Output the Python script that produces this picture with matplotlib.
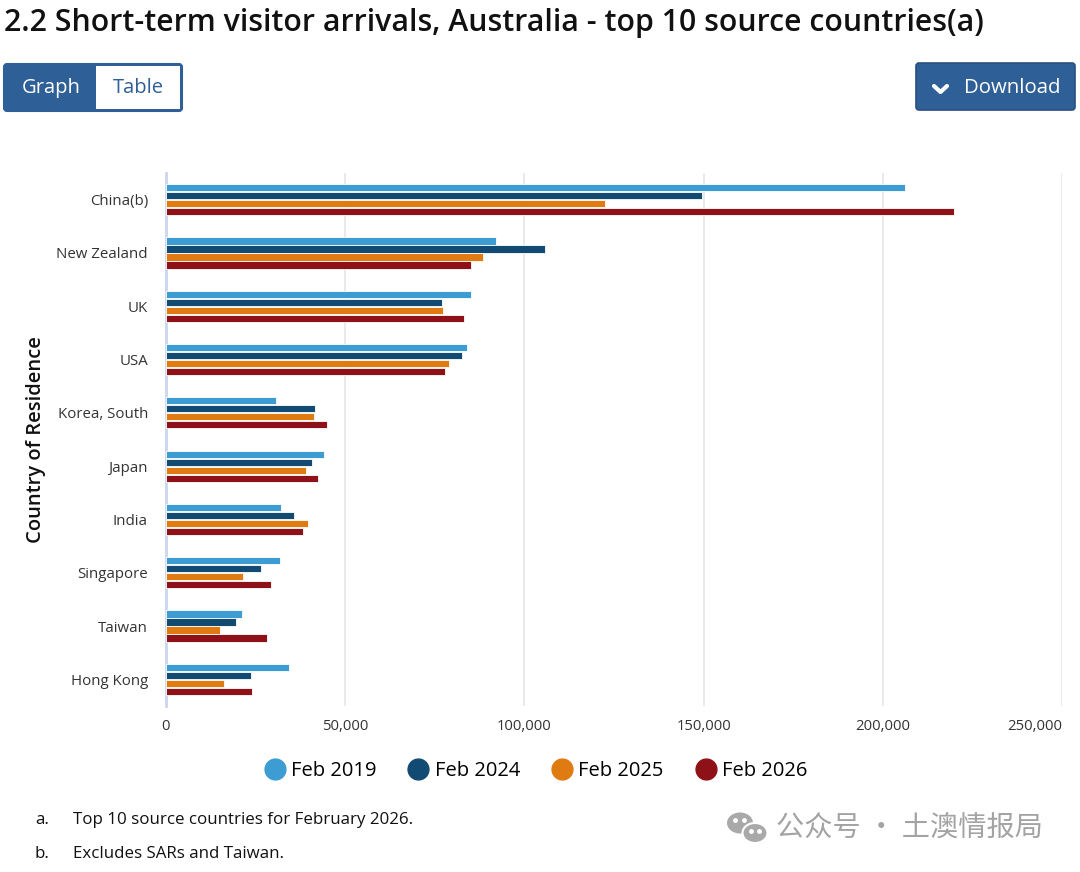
import numpy as np
import matplotlib
matplotlib.use("Agg")
import matplotlib.pyplot as plt
from matplotlib.patches import FancyBboxPatch, Ellipse
from matplotlib.lines import Line2D

plt.rcParams['font.family'] = ['Open Sans', 'Noto Sans CJK SC', 'DejaVu Sans']

countries = ['China(b)', 'New Zealand', 'UK', 'USA', 'Korea, South',
             'Japan', 'India', 'Singapore', 'Taiwan', 'Hong Kong']
feb2019 = [206200, 92100, 85000, 83900, 30600, 44100, 32100, 31700, 21100, 34200]
feb2024 = [149500, 105800, 77000, 82500, 41600, 40600, 35700, 26400, 19500, 23600]
feb2025 = [122400, 88500, 77300, 79100, 41200, 39200, 39500, 21500, 15200, 16200]
feb2026 = [220000, 85000, 83200, 77900, 44800, 42300, 38100, 29300, 28200, 23900]
series = [('Feb 2019', feb2019), ('Feb 2024', feb2024),
          ('Feb 2025', feb2025), ('Feb 2026', feb2026)]
colors = ['#3d9dd3', '#114a72', '#e07b12', '#8f1118']
xticks = [0, 50000, 100000, 150000, 200000, 250000]

W, H = 1080, 872
fig = plt.figure(figsize=(W / 100, H / 100), dpi=100)

# page overlay in pixel coords
bg = fig.add_axes([0, 0, 1, 1], zorder=0)
bg.set_xlim(0, W)
bg.set_ylim(H, 0)
bg.axis('off')

bg.text(4, 23, '2.2 Short-term visitor arrivals, Australia - top 10 source countries(a)',
        fontsize=21.8, fontweight='semibold', color='#111111', va='center', ha='left')

# Graph / Table buttons
bg.add_patch(FancyBboxPatch((4, 64), 178, 47, boxstyle='round,pad=0,rounding_size=3',
                            fc='#2f5f97', ec='#2f5f97', lw=1.5))
bg.add_patch(FancyBboxPatch((96, 66), 84, 43, boxstyle='square,pad=0',
                            fc='white', ec='none'))
bg.text(51, 88, 'Graph', color='white', fontsize=14.5, ha='center', va='center')
bg.text(138, 88, 'Table', color='#2f5f97', fontsize=14.5, ha='center', va='center')

# Download button
bg.add_patch(FancyBboxPatch((916, 63), 159, 47, boxstyle='round,pad=0,rounding_size=3',
                            fc='#2f5f97', ec='#27507f', lw=1.2))
bg.plot([934, 940.5, 947], [86, 92, 86], color='white', lw=3, solid_capstyle='round')
bg.text(964, 88, 'Download', color='white', fontsize=14.7, ha='left', va='center')

# footnotes
bg.text(35, 820, 'a.', fontsize=12.2, color='#111111', va='center')
bg.text(73, 820, 'Top 10 source countries for February 2026.', fontsize=12.2,
        color='#111111', va='center')
bg.text(35, 854, 'b.', fontsize=12.2, color='#111111', va='center')
bg.text(73, 854, 'Excludes SARs and Taiwan.', fontsize=12.2, color='#111111', va='center')

# watermark (wechat-ish icon + text)
bg.add_patch(Ellipse((740, 823), 26, 21, fc='#a9a9a9', ec='none'))
bg.add_patch(Ellipse((755, 833), 25, 20, fc='#a9a9a9', ec='white', lw=1.5))
bg.plot([735, 744, 751, 759], [820, 820, 831, 831], ls='none', marker='o',
        markersize=2.5, color='white')
bg.text(776, 829, '公众号 · 土澳情报局', fontsize=20.3, color='#a3a3a3',
        family=['Noto Sans CJK SC', 'DejaVu Sans'], va='center', ha='left')

# chart
left, right, top, bottom = 166, 1062, 173, 706
ax = fig.add_axes([left / W, 1 - bottom / H, (right - left) / W, (bottom - top) / H], zorder=1)
ax.patch.set_alpha(0)
y = np.arange(len(countries))
offsets = [-0.225, -0.075, 0.075, 0.225]
for (name, vals), c, off in zip(series, colors, offsets):
    ax.barh(y + off, vals, height=0.135, color=c, edgecolor='white',
            linewidth=0.6, label=name, zorder=3)

ax.set_ylim(len(countries) - 0.5, -0.5)
ax.set_xlim(0, 250000)
ax.set_yticks(y)
ax.set_yticklabels(countries, fontsize=10.8, color='#333333')
ax.set_xticks(xticks)
ax.set_xticklabels([f'{v:,}' for v in xticks], fontsize=10.7, color='#333333')
ax.get_xticklabels()[-1].set_ha('right')
ax.tick_params(axis='both', length=0)
ax.tick_params(axis='x', pad=9)
ax.tick_params(axis='y', pad=13)
ax.grid(axis='x', color='#e6e6e6', lw=1.2, zorder=0)
for s in ['top', 'right', 'bottom']:
    ax.spines[s].set_visible(False)
ax.spines['left'].set_color('#ccd6eb')
ax.spines['left'].set_linewidth(2)
ax.set_ylabel('Country of Residence', fontsize=14.5, fontweight='semibold',
              color='#111111')
ax.yaxis.set_label_coords((46 - left) / (right - left), 0.5)

handles = [Line2D([], [], marker='o', ls='none', markersize=15, color=c) for c in colors]
fig.legend(handles, [s[0] for s in series], loc='center', ncol=4,
           bbox_to_anchor=(536 / W, 1 - 771 / H), frameon=False,
           handletextpad=0.3, columnspacing=1.6, handlelength=1.0,
           prop={'weight': 'medium', 'size': 14.5})

fig.savefig('out.png', dpi=100)
